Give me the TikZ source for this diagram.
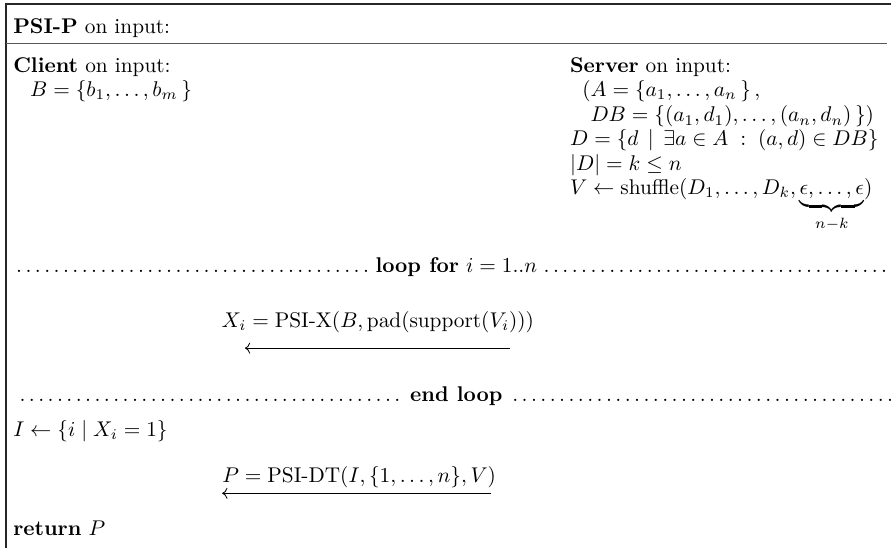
\documentclass[tikz,border=0pt]{standalone}
\usepackage{amsmath,amssymb}
\usepackage{tikz}
\usetikzlibrary{arrows.meta,positioning}

\begin{document}
\begin{tikzpicture}[scale=0.962,
			txt/.style={anchor=base west,inner sep=0pt},
			msg/.style={anchor=base,inner sep=0pt},
			boxline/.style={line width=0.8pt,black!85},
			sepline/.style={line width=0.6pt,black!65},
			send/.style={->,thin}
			]
			\useasboundingbox (0,0) rectangle (15.28,-9.4);
			\draw[boxline] (0.10,-9.4) -- (0.10,-0.07) -- (15.28,-0.07);
			\draw[sepline] (0.10,-0.74) -- (15.21,-0.74);
			\node[txt] (title) at (0.22,-0.57) {\textbf{PSI-P} on input:};
			\node[txt] (cl) at (0.22,-1.25) {\textbf{Client} on input:};
			\node[txt] (clin) at (0.51,-1.66) {$B=\{b_1,\ldots,b_m\,\}$};
			\node[txt] (sv) at (9.77,-1.25) {\textbf{Server} on input:};
			\node[txt] (svin1) at (9.98,-1.66) {$(A=\{a_1,\ldots,a_n\,\}\,,$};
			\node[txt] (svin2) at (10.12,-2.09) {$DB=\{(a_1,d_1),\ldots,(a_n,d_n)\,\})$};
			\node[txt] (sv1) at (9.77,-2.50) {$D=\{d\,\mid\,\exists a\in A\;:\;(a,d)\in DB\}$};
			\node[txt] (sv2) at (9.77,-2.93) {$|D|=k\leq n$};
			\node[txt] (sv3) at (9.77,-3.34) {$V\leftarrow\mathrm{shuffle}(D_1,\ldots,D_k,\underbrace{\epsilon,\ldots,\epsilon}_{n-k})$};
			\node[txt] (lp) at (0.22,-4.68) {\makebox[14.62cm]{\dotfill\,\textbf{loop for} $i=1..n$\,\dotfill}};
			\node[msg] (mx) at (6.48,-5.62) {$X_i=\text{PSI-X}(B,\mathrm{pad}(\mathrm{support}(V_i)))$};
			\coordinate (mxs) at (8.74,-5.97);
			\coordinate (mxe) at (4.20,-5.97);
			\draw[send] (mxs)--(mxe);
			\node[txt] (el) at (0.22,-6.89) {\makebox[14.62cm]{\dotfill\,\textbf{end loop}\,\dotfill}};
			\node[txt] (cl1) at (0.22,-7.49) {$I\leftarrow\{i\mid X_i=1\}$};
			\node[msg] (mp) at (6.16,-8.28) {$P=\text{PSI-DT}(I,\{1,\ldots,n\},V)$};
			\coordinate (mps) at (8.42,-8.46);
			\coordinate (mpe) at (3.81,-8.46);
			\draw[send] (mps)--(mpe);
			\node[txt] (ret) at (0.22,-9.19) {\textbf{return} $P$};
		\end{tikzpicture}
\end{document}
